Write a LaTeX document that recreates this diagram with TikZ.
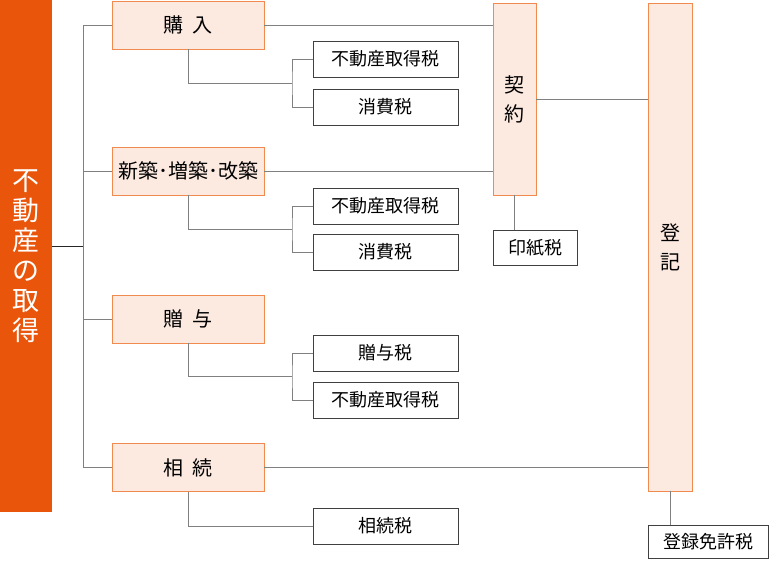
\documentclass[tikz,border=0pt]{standalone}
\usepackage{fontspec}
\setmainfont{Noto Sans CJK JP}
\definecolor{barorange}{HTML}{E9550A}
\definecolor{kindedge}{HTML}{F08A4F}
\definecolor{kindfill}{HTML}{FCE9E0}
\definecolor{linkgray}{HTML}{808080}
\definecolor{taxedge}{HTML}{404040}
\begin{document}
\begin{tikzpicture}[x = 1pt, y = -1pt,
        every node/.style={inner sep=0pt, outer sep=0pt, shape=rectangle},
        link/.style={draw=linkgray, line width=1pt}
]
\tikzstyle{kind}= [draw=kindedge, fill=kindfill, line width=1pt, minimum width=152pt, minimum height=48pt, font=\fontsize{20}{24}\selectfont]
\tikzstyle{tax}= [draw=taxedge, fill=white, line width=1pt, minimum width=145pt, minimum height=36pt, font=\fontsize{18}{22}\selectfont]
\tikzstyle{stage}= [kind, align=center, font=\fontsize{20}{29}\selectfont]
    \useasboundingbox (0,0) rectangle (769,562);
    \node[fill=barorange, text=white, minimum width=52pt, minimum height=512pt, align=center, font=\fontsize{27}{30}\selectfont] (bar) at (26,256) {不\\動\\産\\の\\取\\得};
    \node[kind] (buy) at (188,25) {購\hspace{0.45em}入};
    \node[kind] (build) at (188,171) {新築･増築･改築};
    \node[kind] (gift) at (188,319) {贈\hspace{0.45em}与};
    \node[kind] (inherit) at (188,467.5) {相\hspace{0.45em}続};
    \node[tax] (buyacq) at (385.5,59) {不動産取得税};
    \node[tax] (buycons) at (385.5,107) {消費税};
    \node[tax] (buildacq) at (385.5,206) {不動産取得税};
    \node[tax] (buildcons) at (385.5,252) {消費税};
    \node[tax] (giftgift) at (385.5,353) {贈与税};
    \node[tax] (giftacq) at (385.5,400) {不動産取得税};
    \node[tax] (inherittax) at (385.5,526) {相続税};
    \node[stage, minimum width=43pt, minimum height=192pt] (contract) at (514.5,99) {契\\約};
    \node[tax, minimum width=84pt, minimum height=35pt] (stamp) at (535,247.5) {印紙税};
    \node[stage, minimum width=44pt, minimum height=488pt] (register) at (670,247) {登\\記};
    \node[tax, minimum width=120pt, minimum height=33pt] (regtax) at (708,541.5) {登録免許税};
    \coordinate (hub) at (83,246);
    \coordinate (buyfork) at (292,83);
    \coordinate (buildfork) at (292,229);
    \coordinate (giftfork) at (292,376.5);

    \draw[line width=1pt, black!85] (bar.east |- hub) -- (hub);
    \draw[link] (buy.west) -- (buy.west -| hub) -- (inherit.west -| hub) -- (inherit.west);
    \draw[link] (build.west) -- (build.west -| hub);
    \draw[link] (gift.west) -- (gift.west -| hub);
    \draw[link] (buy.east) -- (buy.east -| contract.west);
    \draw[link] (build.east) -- (build.east -| contract.west);
    \draw[link] (contract.east) -- (contract.east -| register.west);
    \draw[link] (inherit.east) -- (inherit.east -| register.west);
    \draw[link] (contract.south) -- (contract.south |- stamp.north);
    \draw[link] (register.south) -- (register.south |- regtax.north);
    \draw[link] (buy.south) |- (buyfork);
    \draw[link] (buyacq.west) -| (buyfork) |- (buycons.west);
    \draw[link] (build.south) |- (buildfork);
    \draw[link] (buildacq.west) -| (buildfork) |- (buildcons.west);
    \draw[link] (gift.south) |- (giftfork);
    \draw[link] (giftgift.west) -| (giftfork) |- (giftacq.west);
    \draw[link] (inherit.south) |- (inherittax.west);
\end{tikzpicture}
\end{document}
